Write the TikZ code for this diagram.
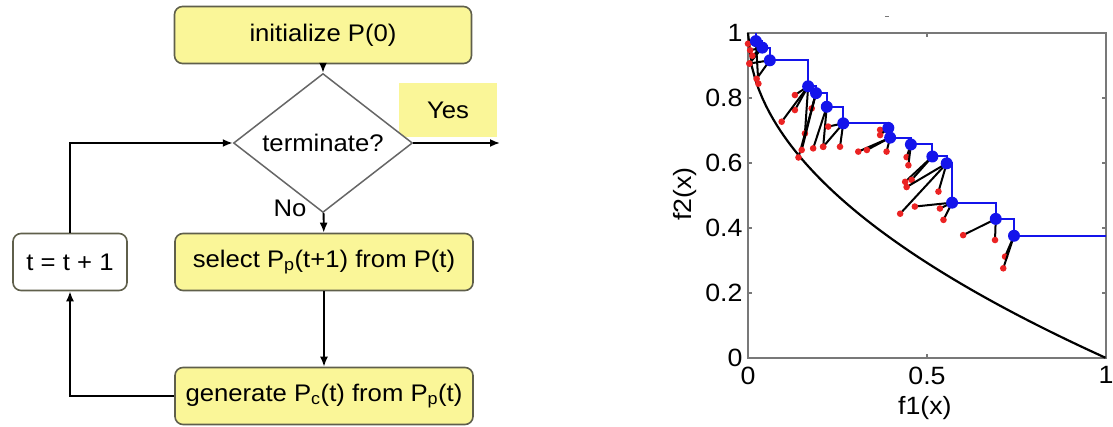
\documentclass[tikz,border=0pt]{standalone}
\usepackage{fontspec}
\setmainfont{Liberation Sans}[FakeStretch=1.07]
\usetikzlibrary{shapes.geometric,arrows.meta}
\definecolor{boxyellow}{RGB}{250,246,152}
\definecolor{boxedge}{RGB}{95,95,75}
\definecolor{framegray}{RGB}{120,120,120}
\definecolor{frontblue}{RGB}{20,20,235}
\definecolor{childred}{RGB}{235,35,35}
\begin{document}
\begin{tikzpicture}[x=1pt, y=-1pt,
	stepbox/.style={draw=boxedge, line width=1.6pt, rounded corners=8pt, fill=#1, minimum height=57pt, font=\fontsize{24pt}{28pt}\selectfont},
	decision/.style={diamond, draw=black!60, line width=1.5pt, fill=white, minimum width=179pt, minimum height=87pt, inner sep=0pt, font=\fontsize{24pt}{28pt}\selectfont},
	flow/.style={line width=1.8pt, -{Latex[length=10pt,width=8pt]}},
	ticklabel/.style={inner sep=0pt, font=\fontsize{25pt}{28pt}\selectfont}]
	\useasboundingbox (0,0) rectangle (1113,427);
	\node[fill=boxyellow, minimum width=98pt, minimum height=54pt, font=\fontsize{24pt}{28pt}\selectfont] (yes) at (448,110) {Yes};
	\node[stepbox=boxyellow, minimum width=297pt] (init) at (323,35) {initialize P(0)};
	\node[decision] (term) at (323,143) {terminate?};
	\node[font=\fontsize{24pt}{28pt}\selectfont] (no) at (290,208) {No};
	\node[stepbox=boxyellow, minimum width=298pt] (select) at (324,262) {select P\textsubscript{p}(t+1) from P(t)};
	\node[stepbox=white, minimum width=114pt] (tstep) at (70,262) {t = t + 1};
	\node[stepbox=boxyellow, minimum width=298pt] (gen) at (324,396) {generate P\textsubscript{c}(t) from P\textsubscript{p}(t)};
	\coordinate (exit) at (500,143);
	\draw[flow] (init) -- (term);
	\draw[flow] (term) -- (exit);
	\draw[flow] (term) -- (select);
	\draw[flow] (select) -- (gen);
	\draw[flow] (gen) -| (tstep);
	\draw[flow] (tstep) |- (term);
	\begin{scope}[shift={(748,358)}, x=358pt, y=325pt]
		\draw[framegray, line width=1.8pt] (0,0) rectangle (1,1);
		\foreach \t in {0,0.5,1} {
			\draw[framegray, line width=1.2pt] (\t,0) -- ++(0,0.012) (\t,1) -- ++(0,-0.012);
			\node[ticklabel, anchor=north] at (\t,-0.026) {\t};
		}
		\foreach \t in {0,0.2,0.4,0.6,0.8,1} {
			\draw[framegray, line width=1.2pt] (0,\t) -- ++(0.011,0) (1,\t) -- ++(-0.011,0);
			\node[ticklabel, anchor=east] at (-0.015,\t) {\t};
		}
		\node[ticklabel] at (0.494,-0.154) {f1(x)};
		\node[ticklabel, rotate=90] at (-0.176,0.505) {f2(x)};
		\draw[framegray, line width=1pt] (0.382,1.05) -- (0.394,1.05);
		\draw[line width=2.2pt] plot[domain=0:1, samples=100] (\x, {1-sqrt(\x)});
		\draw[frontblue, line width=2pt] (0.022,1) -- (0.022,0.975) -- (0.040,0.975) -- (0.040,0.955) -- (0.061,0.955) -- (0.061,0.916) -- (0.168,0.916) -- (0.168,0.836) -- (0.190,0.836) -- (0.190,0.815) -- (0.220,0.815) -- (0.220,0.773) -- (0.266,0.773) -- (0.266,0.722) -- (0.392,0.722) -- (0.392,0.708) -- (0.397,0.708) -- (0.397,0.678) -- (0.455,0.678) -- (0.455,0.657) -- (0.515,0.657) -- (0.515,0.620) -- (0.555,0.620) -- (0.555,0.599) -- (0.570,0.599) -- (0.570,0.478) -- (0.692,0.478) -- (0.692,0.428) -- (0.743,0.428) -- (0.743,0.376) -- (1,0.376);
		\foreach \px/\py/\cx/\cy in {0.022/0.975/0.000/0.967, 0.022/0.975/0.029/0.844, 0.040/0.955/0.006/0.947, 0.040/0.955/0.004/0.906, 0.040/0.955/0.012/0.930, 0.061/0.916/0.024/0.859, 0.061/0.916/0.004/0.906,
			0.168/0.836/0.131/0.809, 0.168/0.836/0.131/0.763, 0.168/0.836/0.094/0.727, 0.168/0.836/0.159/0.691, 0.190/0.815/0.178/0.768, 0.190/0.815/0.141/0.617, 0.190/0.815/0.150/0.640,
			0.220/0.773/0.182/0.645, 0.220/0.773/0.210/0.650, 0.266/0.722/0.224/0.712, 0.266/0.722/0.257/0.650, 0.266/0.722/0.210/0.650,
			0.392/0.708/0.369/0.702, 0.392/0.708/0.369/0.686, 0.397/0.678/0.308/0.635, 0.397/0.678/0.332/0.640, 0.397/0.678/0.387/0.635,
			0.455/0.657/0.443/0.618, 0.455/0.657/0.448/0.593, 0.515/0.620/0.439/0.542, 0.515/0.620/0.457/0.548,
			0.555/0.599/0.425/0.444, 0.555/0.599/0.443/0.526, 0.555/0.599/0.532/0.512, 0.570/0.478/0.466/0.466, 0.570/0.478/0.536/0.460, 0.570/0.478/0.546/0.425,
			0.692/0.428/0.601/0.378, 0.692/0.428/0.690/0.363, 0.743/0.376/0.718/0.312, 0.743/0.376/0.713/0.276} {
			\draw[line width=2pt] (\px,\py) -- (\cx,\cy);
			\fill[childred] (\cx,\cy) circle (3.3pt);
		}
		\foreach \px/\py in {0.022/0.975, 0.040/0.955, 0.061/0.916, 0.168/0.836, 0.190/0.815, 0.220/0.773, 0.266/0.722, 0.392/0.708, 0.397/0.678, 0.455/0.657, 0.515/0.620, 0.555/0.599, 0.570/0.478, 0.692/0.428, 0.743/0.376}
			\fill[frontblue] (\px,\py) circle (6pt);
	\end{scope}
\end{tikzpicture}
\end{document}
